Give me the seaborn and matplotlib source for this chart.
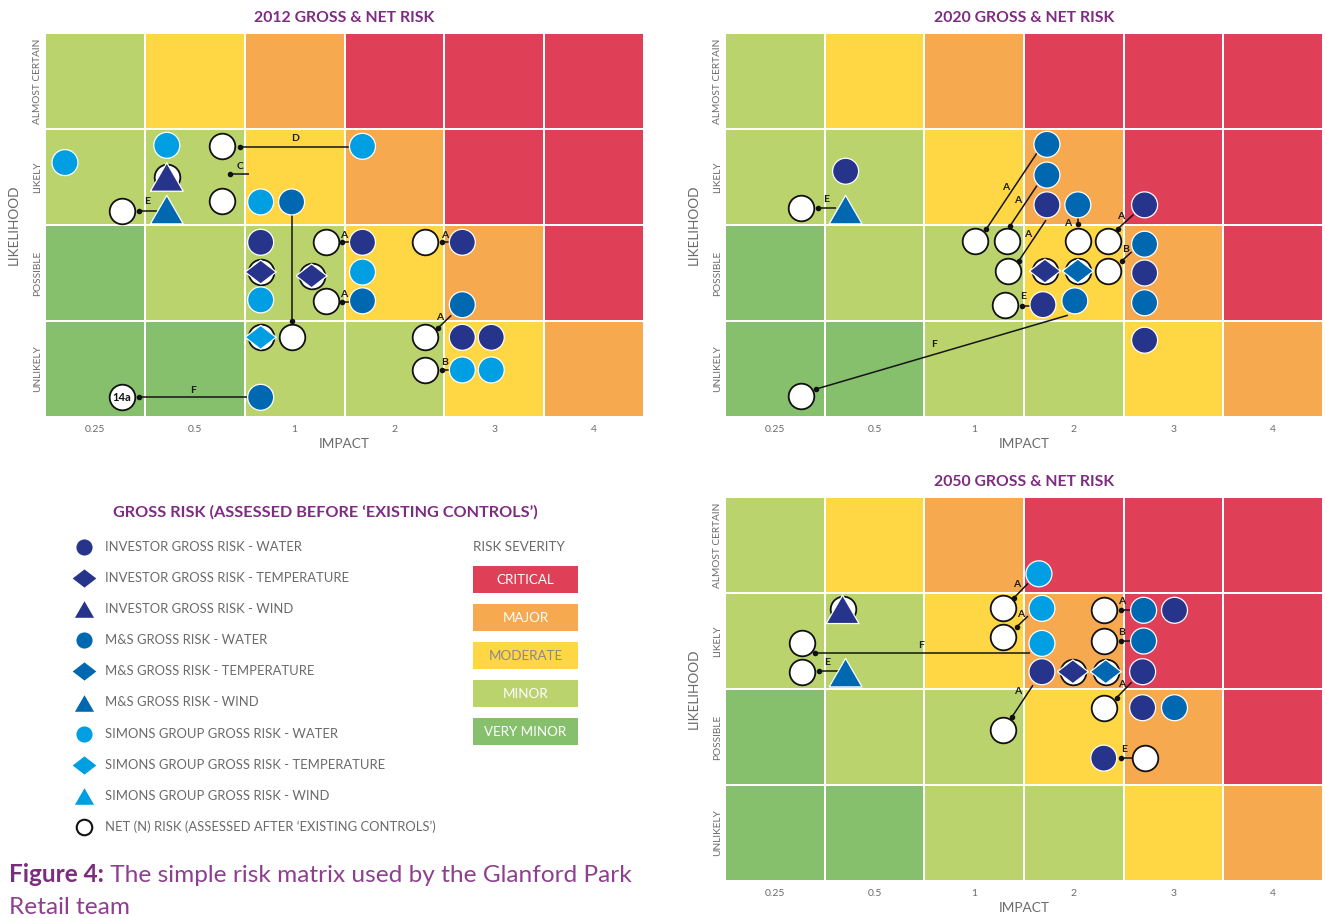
import numpy as np
import pandas as pd
import matplotlib
matplotlib.use("Agg")
import matplotlib.pyplot as plt
import seaborn as sns
from matplotlib.colors import ListedColormap
from matplotlib.patches import Rectangle

sns.set_theme(style="white")
plt.rcParams["font.family"] = ["Lato", "DejaVu Sans"]

# ---------------- data ----------------
IMPACT_LABELS = ["0.25", "0.5", "1", "2", "3", "4"]
LIKELIHOOD_LABELS = ["UNLIKELY", "POSSIBLE", "LIKELY", "ALMOST CERTAIN"]
SEVERITY_NAMES = ["VERY MINOR", "MINOR", "MODERATE", "MAJOR", "CRITICAL"]
# rows: UNLIKELY -> ALMOST CERTAIN ; columns: impact 0.25 -> 4
SEVERITY_GRID = [[0, 0, 1, 1, 2, 3],
                 [0, 1, 1, 2, 3, 4],
                 [1, 1, 2, 3, 4, 4],
                 [1, 2, 3, 4, 4, 4]]

SERIES_KEYS = ["IW", "IT", "IWi", "MW", "MT", "MWi", "SW", "ST", "SWi"]
SERIES_NAMES = ["INVESTOR GROSS RISK - WATER", "INVESTOR GROSS RISK - TEMPERATURE",
                "INVESTOR GROSS RISK - WIND", "M&S GROSS RISK - WATER",
                "M&S GROSS RISK - TEMPERATURE", "M&S GROSS RISK - WIND",
                "SIMONS GROUP GROSS RISK - WATER", "SIMONS GROUP GROSS RISK - TEMPERATURE",
                "SIMONS GROUP GROSS RISK - WIND"]
NET_NAME = "NET (N) RISK (ASSESSED AFTER \u2018EXISTING CONTROLS\u2019)"

# 2012
gross_2012_x = [0.20, 1.22, 3.18, 2.16, 2.16, 3.18, 4.18, 4.47, 1.22, 1.22, 2.47, 3.18, 4.18, 2.16,
                2.16, 3.18, 4.18, 4.18, 4.47, 2.16, 2.67, 2.16]
gross_2012_y = [2.65, 2.83, 2.82, 2.24, 1.22, 1.51, 0.49, 0.49, 2.50, 2.16, 2.24, 1.21, 1.17, 0.205,
                1.82, 1.82, 1.82, 0.83, 0.83, 1.51, 1.47, 0.83]
gross_2012_kind = ["SW"] * 8 + ["IWi", "MWi"] + ["MW"] * 4 + ["IW"] * 5 + ["IT", "IT", "ST"]
net_2012_x = [1.22, 0.77, 1.77, 1.77, 2.47, 2.16, 2.67, 2.81, 2.81, 3.81, 3.81, 3.81, 2.16, 0.77]
net_2012_y = [2.50, 2.15, 2.82, 2.25, 0.83, 1.51, 1.47, 1.82, 1.21, 1.82, 0.83, 0.49, 0.83, 0.205]
net_2012_text = ["", "", "", "", "", "", "", "", "", "", "", "", "", "14a"]
# connector: dot x, dot y, end x, end y, letter, letter x, letter y
links_2012 = [(0.94, 2.15, 1.12, 2.15, "E", 1.02, 2.24),
              (1.95, 2.81, 3.05, 2.81, "D", 2.50, 2.90),
              (1.85, 2.53, 2.04, 2.53, "C", 1.95, 2.61),
              (2.47, 1.00, 2.47, 2.10, "", 2.47, 1.50),
              (2.97, 1.82, 3.07, 1.82, "A", 2.99, 1.89),
              (2.97, 1.20, 3.07, 1.20, "A", 2.99, 1.28),
              (3.98, 1.82, 4.07, 1.82, "A", 4.00, 1.89),
              (3.94, 0.93, 4.07, 1.06, "A", 3.95, 1.04),
              (3.98, 0.49, 4.07, 0.49, "B", 4.00, 0.57),
              (0.94, 0.205, 2.04, 0.205, "F", 1.48, 0.28)]

# 2020
gross_2020_x = [1.21, 3.23, 4.21, 4.21, 3.19, 4.21, 1.21, 3.23, 3.23, 3.54, 4.21, 3.51, 4.21, 3.21, 3.54]
gross_2020_y = [2.56, 2.21, 2.21, 1.50, 1.17, 0.80, 2.16, 2.84, 2.52, 2.21, 1.80, 1.21, 1.19, 1.52, 1.52]
gross_2020_kind = ["IW"] * 6 + ["MWi"] + ["MW"] * 6 + ["IT", "MT"]
net_2020_x = [0.76, 0.76, 2.51, 2.83, 3.54, 3.84, 2.84, 3.21, 3.54, 3.84, 2.81]
net_2020_y = [2.18, 0.22, 1.83, 1.83, 1.83, 1.83, 1.52, 1.52, 1.52, 1.52, 1.17]
net_2020_text = [""] * 11
links_2020 = [(0.93, 2.18, 1.11, 2.18, "E", 1.01, 2.27),
              (0.91, 0.29, 3.44, 1.06, "F", 2.10, 0.75),
              (2.62, 1.955, 3.13, 2.75, "A", 2.82, 2.39),
              (2.86, 1.99, 3.13, 2.41, "A", 2.94, 2.25),
              (3.54, 2.01, 3.54, 2.07, "A", 3.44, 2.02),
              (3.94, 1.96, 4.10, 2.11, "A", 3.97, 2.09),
              (2.95, 1.63, 3.22, 2.05, "A", 3.04, 1.90),
              (3.98, 1.625, 4.08, 1.72, "B", 4.02, 1.74),
              (2.98, 1.16, 3.06, 1.16, "E", 2.99, 1.25)]

# 2050
gross_2050_x = [3.15, 3.18, 3.18, 1.18, 1.21, 3.18, 4.19, 4.51, 4.19, 3.80, 3.49, 3.82, 4.20, 4.20, 4.51]
gross_2050_y = [3.20, 2.84, 2.475, 2.83, 2.17, 2.18, 2.18, 2.82, 1.805, 1.28, 2.18, 2.18, 2.82, 2.50, 1.805]
gross_2050_kind = ["SW"] * 3 + ["IWi", "MWi"] + ["IW"] * 5 + ["IT", "MT"] + ["MW"] * 3
net_2050_x = [2.79, 2.79, 1.18, 0.77, 0.77, 3.49, 3.82, 3.80, 3.80, 3.80, 2.79, 4.21]
net_2050_y = [2.84, 2.545, 2.83, 2.48, 2.18, 2.18, 2.18, 2.82, 2.50, 1.805, 1.57, 1.28]
net_2050_text = [""] * 12
links_2050 = [(2.90, 2.95, 3.04, 3.10, "A", 2.93, 3.09),
              (2.93, 2.65, 3.04, 2.76, "A", 2.97, 2.78),
              (0.90, 2.38, 3.06, 2.38, "F", 1.97, 2.45),
              (0.94, 2.19, 1.13, 2.19, "E", 1.02, 2.28),
              (3.97, 2.82, 4.06, 2.82, "A", 3.98, 2.91),
              (3.97, 2.50, 4.06, 2.50, "B", 3.98, 2.59),
              (3.93, 1.91, 4.08, 2.07, "A", 3.98, 2.05),
              (2.88, 1.71, 3.09, 2.04, "A", 2.94, 1.97),
              (3.97, 1.28, 4.08, 1.28, "E", 4.00, 1.375)]

# ---------------- styles ----------------
SEV_COLORS = ["#87C06C", "#BAD36D", "#FFD644", "#F6A94F", "#E03F58"]
NAVY, MS_BLUE, SKY = "#27348B", "#0068B1", "#009FE3"
PURPLE = "#7E2B82"
GREY = "#6a6a6a"
DIAMOND = [(-1, 0), (0, 0.77), (1, 0), (0, -0.77), (-1, 0)]
TRIANGLE = [(-1, -0.866), (1, -0.866), (0, 0.866), (-1, -0.866)]
SHAPE = {"W": "o", "T": DIAMOND, "i": TRIANGLE}
COLOR = {"I": NAVY, "M": MS_BLUE, "S": SKY}


def kind_shape(k):
    return SHAPE["i"] if k.endswith("Wi") else SHAPE[k[1]]


PALETTE = {k: COLOR[k[0]] for k in SERIES_KEYS}
MARKERS = {k: kind_shape(k) for k in SERIES_KEYS}
SIZES = {k: (350 if k[1] == "W" and not k.endswith("Wi") else (500 if k[1] == "T" else 560))
         for k in SERIES_KEYS}

fig = plt.figure(figsize=(13.25, 9.18), dpi=100)
W, H = 1325, 918


def px_axes(x0, y0, x1, y1):
    return fig.add_axes([x0 / W, 1 - y1 / H, (x1 - x0) / W, (y1 - y0) / H])


def draw_panel(ax, title, gx, gy, gk, nx, ny, ntext, links):
    sns.heatmap(np.array(SEVERITY_GRID), cmap=ListedColormap(SEV_COLORS), vmin=-0.5, vmax=4.5,
                cbar=False, linewidths=1.25, linecolor="white", ax=ax)
    ax.set_xlim(0, 6)
    ax.set_ylim(0, 4)
    sns.despine(ax=ax, left=True, bottom=True)
    for (x0, y0, x1, y1, lab, lx, ly) in links:
        ax.plot([x0, x1], [y0, y1], color="#151515", lw=1.1, zorder=2, solid_capstyle="butt")
    sns.scatterplot(x=nx, y=ny, ax=ax, color="white", edgecolor="#111111", linewidth=1.3,
                    s=340, zorder=3, legend=False)
    df = pd.DataFrame({"x": gx, "y": gy, "kind": gk})
    sns.scatterplot(data=df, x="x", y="y", hue="kind", style="kind", size="kind",
                    palette=PALETTE, markers=MARKERS, sizes=SIZES, edgecolor="white",
                    linewidth=0.9, zorder=4, legend=False, ax=ax)
    sns.scatterplot(x=[l[0] for l in links], y=[l[1] for l in links], ax=ax, color="#111111",
                    s=16, linewidth=0, zorder=5, legend=False)
    for (x0, y0, x1, y1, lab, lx, ly) in links:
        if lab:
            ax.text(lx, ly, lab, fontsize=7.5, fontweight="bold", color="#1a1a1a",
                    ha="center", va="center", zorder=6)
    for x, y, t in zip(nx, ny, ntext):
        if t:
            ax.text(x, y, t, fontsize=8, fontweight="bold", color="#111111",
                    ha="center", va="center", zorder=6)
    ax.set_xticks(np.arange(6) + 0.5)
    ax.set_xticklabels(IMPACT_LABELS, fontsize=7.5, color=GREY, rotation=0)
    ax.set_yticks(np.arange(4) + 0.5)
    ax.set_yticklabels(LIKELIHOOD_LABELS, rotation=90, va="center", fontsize=7.3, color=GREY)
    ax.tick_params(axis="x", length=0, pad=6)
    ax.tick_params(axis="y", length=0, pad=2)
    ax.set_xlabel("IMPACT", fontsize=9.8, color=GREY)
    ax.set_ylabel("LIKELIHOOD", fontsize=9.8, color=GREY)
    ax.xaxis.set_label_coords(0.5, -0.055)
    ax.yaxis.set_label_coords(-0.042, 0.5)
    ax.set_title(title, fontsize=11.3, fontweight="bold", color=PURPLE, pad=8)


ax12 = px_axes(45, 33, 644, 417)
ax20 = px_axes(725, 33, 1323, 417)
ax50 = px_axes(725, 497, 1323, 881)
draw_panel(ax12, "2012 GROSS & NET RISK", gross_2012_x, gross_2012_y, gross_2012_kind,
           net_2012_x, net_2012_y, net_2012_text, links_2012)
draw_panel(ax20, "2020 GROSS & NET RISK", gross_2020_x, gross_2020_y, gross_2020_kind,
           net_2020_x, net_2020_y, net_2020_text, links_2020)
draw_panel(ax50, "2050 GROSS & NET RISK", gross_2050_x, gross_2050_y, gross_2050_kind,
           net_2050_x, net_2050_y, net_2050_text, links_2050)

# ---------------- legend panel ----------------
lg = fig.add_axes([0, 0, 1, 1], facecolor="none")
lg.set_xlim(0, W)
lg.set_ylim(H, 0)
lg.axis("off")
lg.text(325, 512, "GROSS RISK (ASSESSED BEFORE \u2018EXISTING CONTROLS\u2019)", fontsize=11.7,
        fontweight="bold", color=PURPLE, ha="center", va="center")
for i, (k, name) in enumerate(zip(SERIES_KEYS, SERIES_NAMES)):
    yy = 547 + i * 31.1
    m = kind_shape(k)
    sz = 135 if m == "o" else (290 if m is DIAMOND else 190)
    lg.scatter([84], [yy], marker=m, s=sz, color=PALETTE[k], linewidths=0)
    lg.text(105, yy, name, fontsize=9.4, color=GREY, ha="left", va="center")
yy = 547 + 9 * 31.1
lg.scatter([84], [yy], marker="o", s=125, facecolor="white", edgecolor="#111111", linewidths=1.5)
lg.text(105, yy, NET_NAME, fontsize=9.4, color=GREY, ha="left", va="center")

lg.text(473, 547, "RISK SEVERITY", fontsize=9.6, color=GREY, ha="left", va="center")
for j, sev in enumerate(reversed(range(5))):
    y0 = 566 + j * 38.1
    lg.add_patch(Rectangle((473, y0), 105, 26.7, color=SEV_COLORS[sev], lw=0))
    tc = "#8a8a8a" if SEVERITY_NAMES[sev] == "MODERATE" else "white"
    lg.text(525.5, y0 + 13.5, SEVERITY_NAMES[sev], fontsize=9.6, color=tc, ha="center", va="center")

t1 = lg.text(9, 875, "Figure 4:", fontsize=17.6, fontweight="bold", color="#7B2D80",
             ha="left", va="center")
lg.annotate(" The simple risk matrix used by the Glanford Park", xy=(1, 0.5), xycoords=t1,
            fontsize=17.6, color="#8E3F90", ha="left", va="center")
lg.text(9, 908, "Retail team", fontsize=17.6, color="#8E3F90", ha="left", va="center")

fig.savefig("out.png", dpi=100)
